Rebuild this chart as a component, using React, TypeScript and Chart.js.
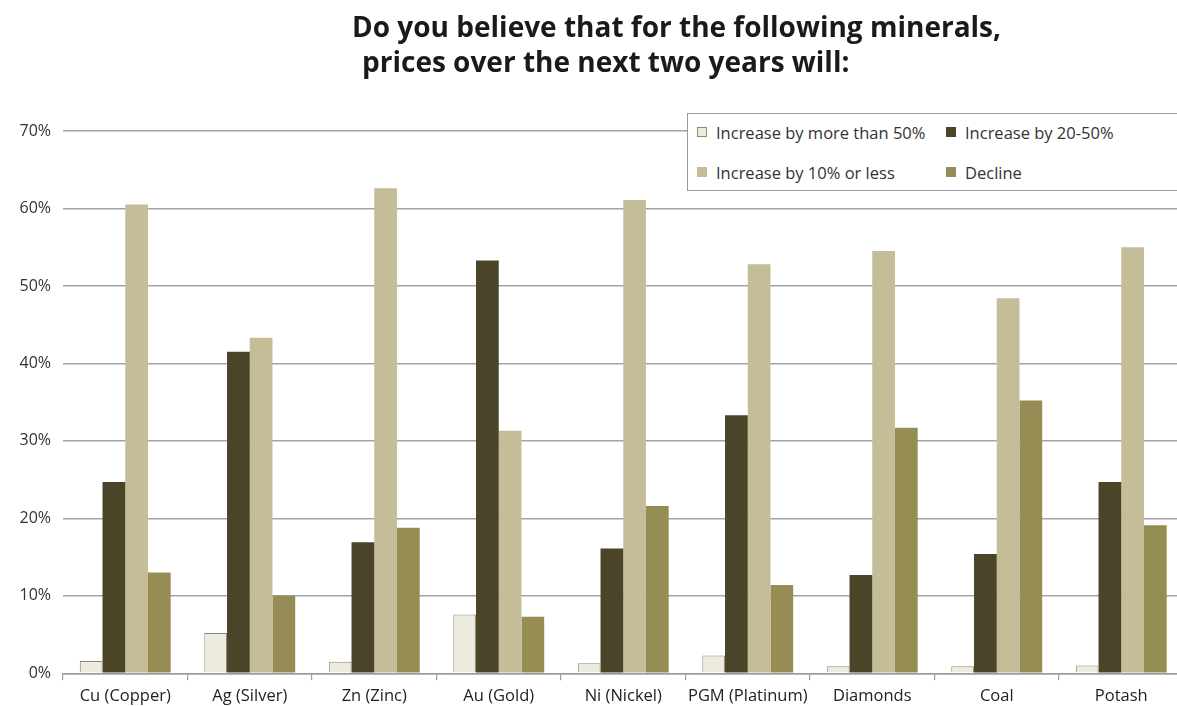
import React, { useEffect, useRef } from "react";
import { Chart, registerables } from "chart.js";

Chart.register(...registerables);

const categories = [
  "Cu (Copper)",
  "Ag (Silver)",
  "Zn (Zinc)",
  "Au (Gold)",
  "Ni (Nickel)",
  "PGM (Platinum)",
  "Diamonds",
  "Coal",
  "Potash",
];

const seriesNames = [
  "Increase by more than 50%",
  "Increase by 20-50%",
  "Increase by 10% or less",
  "Decline",
];

const moreThan50 = [1.6, 5.2, 1.5, 7.6, 1.3, 2.3, 0.9, 0.9, 1.0];
const from20to50 = [24.7, 41.5, 16.9, 53.3, 16.1, 33.3, 12.7, 15.4, 24.7];
const tenOrLess = [60.5, 43.3, 62.6, 31.3, 61.1, 52.8, 54.5, 48.4, 55.0];
const decline = [13.0, 10.0, 18.8, 7.3, 21.6, 11.4, 31.7, 35.2, 19.1];

const seriesValues = [moreThan50, from20to50, tenOrLess, decline];
const seriesColors = ["#EDEBDF", "#4A4429", "#C5BD97", "#958D53"];
const seriesBorders = ["#8D8A6C", "#4A4429", "#C5BD97", "#958D53"];

const yTicks = [0, 10, 20, 30, 40, 50, 60, 70];

const FONT = "'Open Sans', 'Noto Sans', sans-serif";

export default function App() {
  const canvasRef = useRef<HTMLCanvasElement | null>(null);

  useEffect(() => {
    if (!canvasRef.current) return;
    const chart = new Chart(canvasRef.current, {
      type: "bar",
      data: {
        labels: categories,
        datasets: seriesValues.map((vals, i) => ({
          label: seriesNames[i],
          data: vals,
          backgroundColor: seriesColors[i],
          borderColor: seriesBorders[i],
          borderWidth: i === 0 ? 1 : 0,
          barPercentage: 1,
          categoryPercentage: 0.73,
        })),
      },
      options: {
        animation: false,
        responsive: false,
        maintainAspectRatio: false,
        layout: { padding: { top: 131, right: 16.5, bottom: 0, left: 0 } },
        plugins: {
          legend: { display: false },
          tooltip: { enabled: false },
          title: { display: false },
        },
        scales: {
          x: {
            type: "category",
            offset: true,
            afterFit: (scale: any) => {
              scale.height = 32.7;
            },
            border: { display: true, color: "#9C9C9C", width: 1.5 },
            grid: {
              display: true,
              offset: true,
              drawOnChartArea: false,
              drawTicks: true,
              tickLength: 7,
              color: "#9C9C9C",
              lineWidth: 1.2,
            },
            ticks: {
              color: "#222222",
              font: { family: FONT, size: 16.5 },
              padding: 6,
              maxRotation: 0,
              autoSkip: false,
            },
          },
          y: {
            min: 0,
            max: 70,
            afterFit: (scale: any) => {
              scale.width = 63;
            },
            afterBuildTicks: (scale: any) => {
              scale.ticks = yTicks.map((v) => ({ value: v }));
            },
            border: { display: false },
            grid: {
              color: "#A3A3A3",
              lineWidth: 1.5,
              drawTicks: false,
            },
            ticks: {
              color: "#333333",
              font: { family: FONT, size: 16 },
              padding: 12,
              callback: (v: any) => `${v}%`,
            },
          },
        },
      },
    });
    return () => chart.destroy();
  }, []);

  const titleStyle: React.CSSProperties = {
    position: "absolute",
    fontFamily: "'Open Sans', Lato, sans-serif",
    fontWeight: 700,
    fontSize: 28,
    lineHeight: "30px",
    letterSpacing: "0px",
    color: "#1A1A1A",
    whiteSpace: "nowrap",
  };

  return (
    <div
      style={{
        position: "fixed",
        left: 0,
        top: 0,
        width: 1177,
        height: 706,
        overflow: "hidden",
        background: "#ffffff",
      }}
    >
      <canvas
        ref={canvasRef}
        width={1200}
        height={706}
        style={{ position: "absolute", left: 0, top: 0, width: 1200, height: 706 }}
      />
      <div style={{ ...titleStyle, left: 352, top: 11 }}>
        Do you believe that for the following minerals,
      </div>
      <div style={{ ...titleStyle, left: 362, top: 46 }}>
        prices over the next two years will:
      </div>
      <div
        style={{
          position: "absolute",
          left: 687,
          top: 113,
          width: 520,
          height: 78,
          border: "1.5px solid #9A9A9A",
          background: "#ffffff",
          display: "grid",
          gridTemplateColumns: "249px 260px",
          gridTemplateRows: "36px 36px",
          rowGap: 4,
          paddingLeft: 9,
          boxSizing: "border-box",
          fontFamily: FONT,
          fontSize: 16.5,
          color: "#333333",
        }}
      >
        {seriesNames.map((name, i) => (
          <div
            key={name}
            style={{ display: "flex", alignItems: "center", whiteSpace: "nowrap" }}
          >
            <span
              style={{
                display: "inline-block",
                width: 10,
                height: 10,
                flex: "0 0 10px",
                boxSizing: "border-box",
                background: seriesColors[i],
                border: `1px solid ${seriesBorders[i]}`,
                marginRight: 9,
              }}
            />
            <span>{name}</span>
          </div>
        ))}
      </div>
    </div>
  );
}
